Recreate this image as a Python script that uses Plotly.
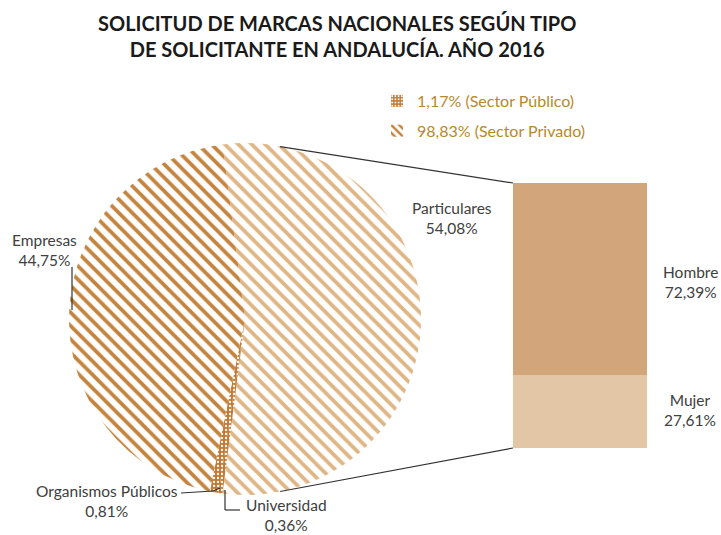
import math
import plotly.graph_objects as go

W, H = 721, 535

# ---- data ----
pie_labels = ["Particulares", "Universidad", "Organismos Públicos", "Empresas"]
pie_values = [54.08, 0.36, 0.81, 44.75]
pie_text = ["54,08%", "0,36%", "0,81%", "44,75%"]
bar_labels = ["Mujer", "Hombre"]
bar_values = [27.61, 72.39]
bar_text = ["27,61%", "72,39%"]
legend_names = ["1,17% (Sector Público)", "98,83% (Sector Privado)"]
title_lines = ["SOLICITUD DE MARCAS NACIONALES SEGÚN TIPO",
               "DE SOLICITANTE EN ANDALUCÍA. AÑO 2016"]

# ---- geometry (window pixels) ----
CX, CY, R = 245, 319, 176
BX0, BX1, BY0, BY1 = 513, 647, 183, 448

def px(x):
    return x / W

def py(y):
    return 1 - y / H

FONT = "Lato"
TXT = "#404040"
C_EMP = "#c4843e"
C_PART = "#dfb584"
C_PUB = "#c27a34"
C_H = "#d2a67a"
C_M = "#e2c6a6"
LEG = "#b8882c"

# rotation so the split slice (Particulares) is centred on 3 o'clock
part_deg = pie_values[0] / sum(pie_values) * 360
rotation = 90 - part_deg / 2

fig = go.Figure()

fig.add_trace(go.Pie(
    labels=pie_labels, values=pie_values, sort=False, direction="clockwise",
    rotation=rotation, textinfo="none", hoverinfo="label+value",
    domain=dict(x=[px(CX - R), px(CX + R)], y=[py(CY + R), py(CY - R)]),
    showlegend=False,
    marker=dict(
        colors=["white", C_PUB, C_PUB, "white"],
        line=dict(width=0),
        pattern=dict(
            shape=["\\", ".", ".", "\\"],
            fgcolor=[C_PART, "white", "white", C_EMP],
            bgcolor=["white", C_PUB, C_PUB, "white"],
            size=[9.5, 4, 4, 9.5],
            solidity=[0.4, 0.25, 0.25, 0.4],
            fillmode="replace",
        ),
    ),
))

for lab, val, col in zip(bar_labels, bar_values, [C_M, C_H]):
    fig.add_trace(go.Bar(
        x=[0], y=[val], name=lab, xaxis="x2", yaxis="y2",
        marker=dict(color=col, line=dict(width=0)), showlegend=False,
        hoverinfo="name+y",
    ))

# legend entries
fig.add_trace(go.Bar(
    x=[None], y=[None], name=legend_names[0], xaxis="x2", yaxis="y2",
    marker=dict(color=C_PUB, pattern=dict(shape=".", fgcolor="white", bgcolor=C_PUB,
                                          size=4, solidity=0.3, fillmode="replace"),
                line=dict(width=0)),
    legendgroup="a",
))
fig.add_trace(go.Bar(
    x=[None], y=[None], name=legend_names[1], xaxis="x2", yaxis="y2",
    marker=dict(color="white", pattern=dict(shape="\\", fgcolor=C_EMP, bgcolor="white",
                                            size=7, solidity=0.45, fillmode="replace"),
                line=dict(width=0)),
    legendgroup="b",
))

annotations = []
annotations.append(dict(
    x=px(337), y=py(36), xref="paper", yref="paper", showarrow=False,
    text="<b>" + title_lines[0] + "<br>" + title_lines[1] + "</b>",
    font=dict(family=FONT, size=20, color="#1a1a1a"), align="center",
    xanchor="center", yanchor="middle",
))

def lab(x, y, name, val):
    annotations.append(dict(
        x=px(x), y=py(y), xref="paper", yref="paper", showarrow=False,
        text=name + "<br>" + val, font=dict(family=FONT, size=15.5, color=TXT),
        align="center", xanchor="center", yanchor="middle",
    ))

lab(452, 218, pie_labels[0], pie_text[0])
lab(286, 515, pie_labels[1], pie_text[1])
lab(107, 501, pie_labels[2], pie_text[2])
lab(44, 250, pie_labels[3], pie_text[3])
lab(690, 282, bar_labels[1], bar_text[1])
lab(690, 410, bar_labels[0], bar_text[0])

shapes = []
def line(x0, y0, x1, y1, color="#333333", w=1.2):
    shapes.append(dict(type="line", xref="paper", yref="paper",
                       x0=px(x0), y0=py(y0), x1=px(x1), y1=py(y1),
                       line=dict(color=color, width=w)))

# connector lines from pie edge to bar corners
a = math.radians(11.5)
line(CX + R * math.sin(a), CY - R * math.cos(a), BX0, BY0)
line(CX + R * math.sin(a), CY + R * math.cos(a), BX0, BY1)

# leader lines
line(72, 267, 72, 310)
line(181, 493, 213, 491)
line(213, 491, 220, 488)
line(225, 490, 225, 510)
line(225, 510, 240, 510)

fig.update_layout(
    width=W, height=H, margin=dict(l=0, r=0, t=0, b=0),
    paper_bgcolor="white", plot_bgcolor="white",
    barmode="stack", bargap=0,
    xaxis2=dict(domain=[px(BX0), px(BX1)], range=[-0.5, 0.5], visible=False,
                anchor="y2", fixedrange=True),
    yaxis2=dict(domain=[py(BY1), py(BY0)], range=[0, 100], visible=False,
                anchor="x2", fixedrange=True),
    xaxis=dict(visible=False), yaxis=dict(visible=False),
    annotations=annotations, shapes=shapes,
    legend=dict(x=px(377), y=py(84), xanchor="left", yanchor="top",
                font=dict(family=FONT, size=16, color=LEG),
                bgcolor="rgba(0,0,0,0)", traceorder="grouped",
                tracegroupgap=6, itemwidth=30),
    font=dict(family=FONT),
)

fig.write_html(
    "out.html",
    config={"displayModeBar": False},
    post_script="document.body.style.margin='0px';document.body.style.overflow='hidden';",
)
